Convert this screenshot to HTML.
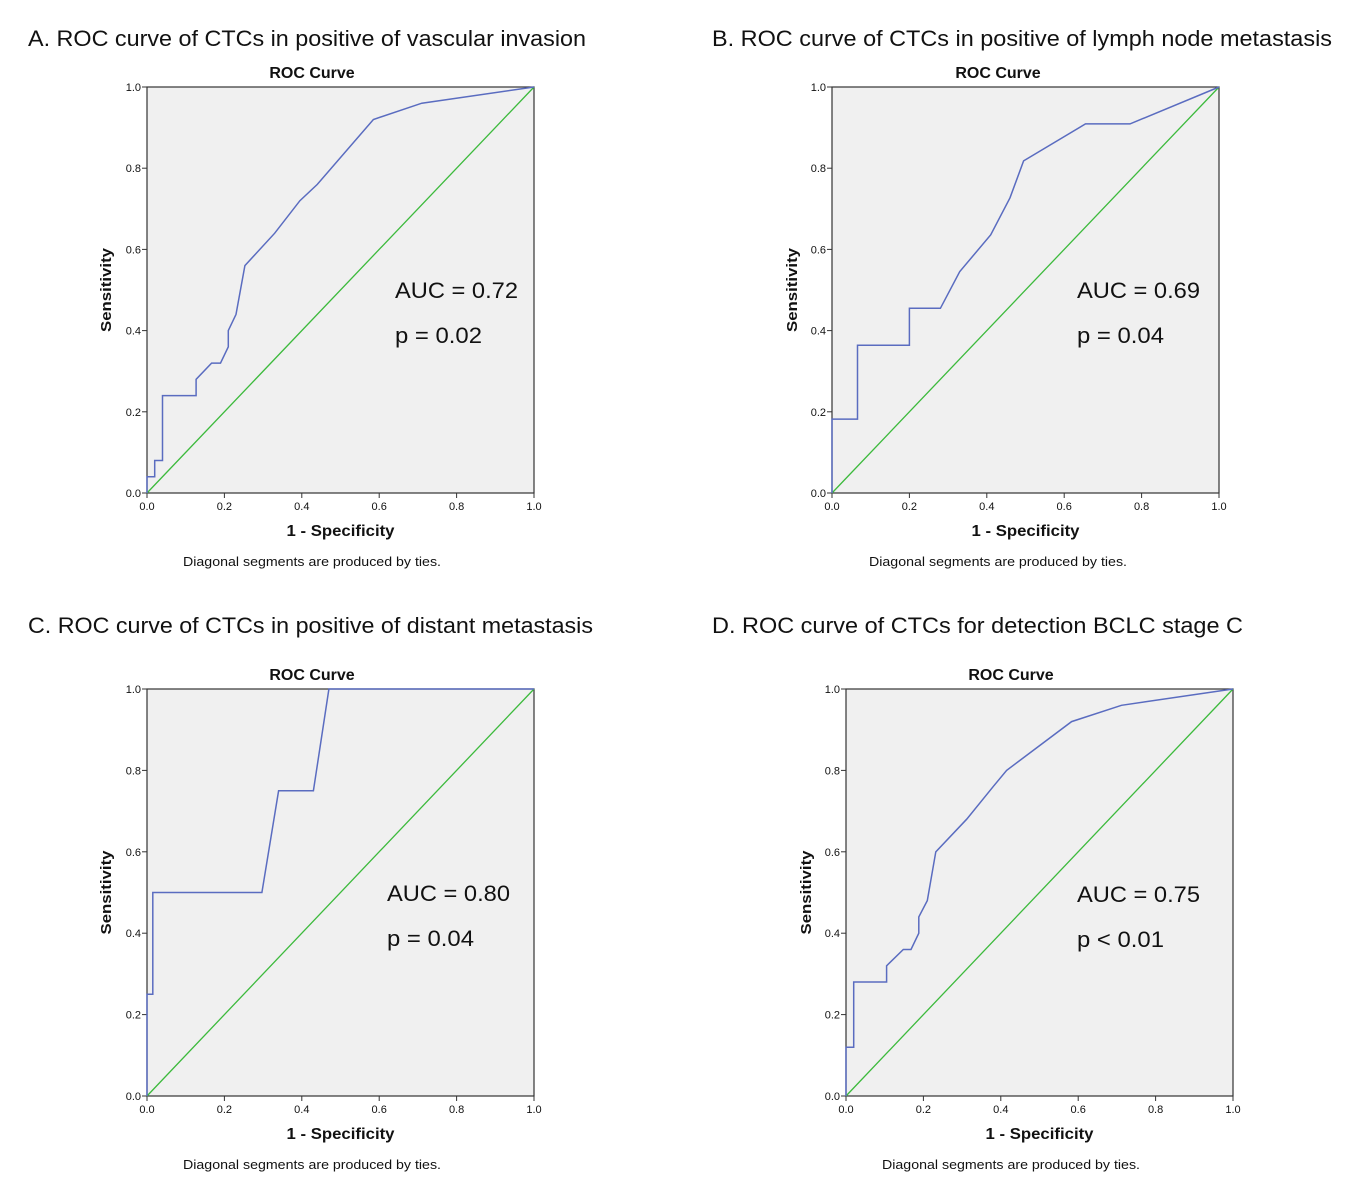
<!DOCTYPE html>
<html><head><meta charset="utf-8"><style>
html,body{margin:0;padding:0;background:#fff}
svg{display:block}
text{font-family:"Liberation Sans","DejaVu Sans",sans-serif;fill:#111}
</style></head><body>
<svg id="fig" width="1367" height="1194" viewBox="0 0 1367 1194" xmlns="http://www.w3.org/2000/svg"></svg>
<script>
// Panel A: vascular invasion
const fprA = [0,0,0.02,0.02,0.04,0.04,0.127,0.127,0.167,0.19,0.21,0.21,0.23,0.253,0.33,0.395,0.44,0.585,0.71,1];
const tprA = [0,0.04,0.04,0.08,0.08,0.24,0.24,0.28,0.32,0.32,0.36,0.40,0.44,0.56,0.64,0.72,0.76,0.92,0.96,1];
// Panel B: lymph node metastasis
const fprB = [0,0,0.066,0.066,0.2,0.2,0.28,0.33,0.41,0.46,0.495,0.655,0.77,1];
const tprB = [0,0.182,0.182,0.364,0.364,0.455,0.455,0.545,0.636,0.727,0.818,0.909,0.909,1];
// Panel C: distant metastasis
const fprC = [0,0,0.015,0.015,0.297,0.34,0.43,0.47,1];
const tprC = [0,0.25,0.25,0.5,0.5,0.75,0.75,1,1];
// Panel D: BCLC stage C
const fprD = [0,0,0.02,0.02,0.105,0.105,0.148,0.168,0.188,0.188,0.21,0.232,0.312,0.38,0.415,0.583,0.712,1];
const tprD = [0,0.12,0.12,0.28,0.28,0.32,0.36,0.36,0.40,0.44,0.48,0.60,0.68,0.76,0.80,0.92,0.96,1];
const tickLabels = ["0.0","0.2","0.4","0.6","0.8","1.0"];
const tickValues = [0,0.2,0.4,0.6,0.8,1];
const panelTitles = ["A. ROC curve of CTCs in positive of vascular invasion","B. ROC curve of CTCs in positive of lymph node metastasis","C. ROC curve of CTCs in positive of distant metastasis","D. ROC curve of CTCs for detection BCLC stage C"];
const aucLabels = ["AUC = 0.72","AUC = 0.69","AUC = 0.80","AUC = 0.75"];
const pLabels = ["p = 0.02","p = 0.04","p = 0.04","p < 0.01"];

const NS="http://www.w3.org/2000/svg";
const svg=document.getElementById('fig');
function mk(tag,attrs,parent,txt){const e=document.createElementNS(NS,tag);for(const k in attrs)e.setAttribute(k,attrs[k]);if(txt!==undefined)e.textContent=txt;(parent||svg).appendChild(e);return e;}

const panels=[
 {id:'a',fpr:fprA,tpr:tprA,x0:147,x1:534,y0:493,y1:87,tx:28,ty:46,tw:558,ax:395,ay:298,rc:312,sx:106,fn:312},
 {id:'b',fpr:fprB,tpr:tprB,x0:832,x1:1219,y0:493,y1:87,tx:712,ty:46,tw:620,ax:1077,ay:298,rc:998,sx:792,fn:998},
 {id:'c',fpr:fprC,tpr:tprC,x0:147,x1:534,y0:1096,y1:689,tx:28,ty:633,tw:565,ax:387,ay:901,rc:312,sx:106,fn:312},
 {id:'d',fpr:fprD,tpr:tprD,x0:846,x1:1233,y0:1096,y1:689,tx:712,ty:633,tw:531,ax:1077,ay:902,rc:1011,sx:806,fn:1011}
];
panels.forEach((p,i)=>{
  const g=mk('g',{});
  
  
  const X=v=>p.x0+v*(p.x1-p.x0), Y=v=>p.y0+v*(p.y1-p.y0);
  const t=mk('text',{x:p.tx,y:p.ty,'font-size':22,textLength:p.tw,lengthAdjust:'spacingAndGlyphs'},g,panelTitles[i]);
  
  
  const rt=mk('text',{x:p.rc,y:p.y1-9,'font-size':16,'font-weight':'bold','text-anchor':'middle'},g,'ROC Curve');
  
  
  const bg=mk('rect',{x:p.x0,y:p.y1,width:p.x1-p.x0,height:p.y0-p.y1,fill:'#f0f0f0',stroke:'#333','stroke-width':1.2},g);
  
  
  tickValues.forEach((v,k)=>{
    mk('line',{x1:X(v),x2:X(v),y1:p.y0,y2:p.y0+5,stroke:'#333'},g);
    const xl=mk('text',{x:X(v),y:p.y0+17,'font-size':11,'text-anchor':'middle'},g,tickLabels[k]);
    
    
    mk('line',{x1:p.x0-5,x2:p.x0,y1:Y(v),y2:Y(v),stroke:'#333'},g);
    const yl=mk('text',{x:p.x0-6,y:Y(v)+4,'font-size':11,'text-anchor':'end'},g,tickLabels[k]);
    
    
  });
  const diag=mk('line',{x1:X(0),y1:Y(0),x2:X(1),y2:Y(1),stroke:'#3cba3c','stroke-width':1.3},g);
  
  
  const pts=p.fpr.map((f,k)=>X(f).toFixed(1)+','+Y(p.tpr[k]).toFixed(1)).join(' ');
  const curve=mk('polyline',{points:pts,fill:'none',stroke:'#5a6cc0','stroke-width':1.5},g);
  
  
  const a=mk('text',{x:p.ax,y:p.ay,'font-size':22,textLength:123,lengthAdjust:'spacingAndGlyphs'},g,aucLabels[i]);
  
  
  const pv=mk('text',{x:p.ax,y:p.ay+45,'font-size':22,textLength:87,lengthAdjust:'spacingAndGlyphs'},g,pLabels[i]);
  
  
  const xt=mk('text',{x:(p.x0+p.x1)/2,y:p.y0+43,'font-size':16,'font-weight':'bold','text-anchor':'middle',textLength:108,lengthAdjust:'spacingAndGlyphs'},g,'1 - Specificity');
  
  
  const cy=(p.y0+p.y1)/2;
  const yt=mk('text',{x:p.sx,y:cy,'font-size':15,'font-weight':'bold','text-anchor':'middle',transform:`rotate(-90 ${p.sx} ${cy})`,dy:5,textLength:84,lengthAdjust:'spacingAndGlyphs'},g,'Sensitivity');
  
  
  const fn=mk('text',{x:p.fn,y:p.y0+73,'font-size':13,'text-anchor':'middle',textLength:258,lengthAdjust:'spacingAndGlyphs'},g,'Diagonal segments are produced by ties.');
  
  
});
</script>
</body></html>
